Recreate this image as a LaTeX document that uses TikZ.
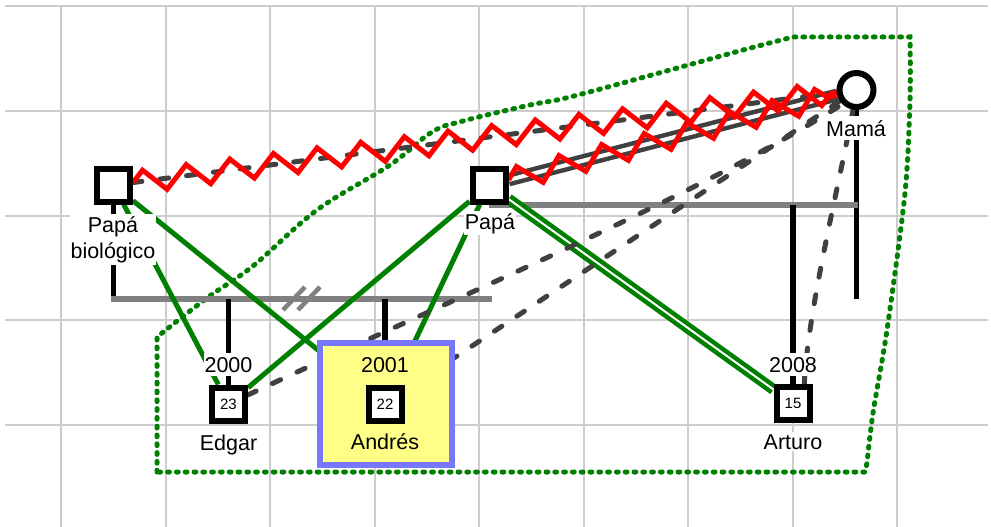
\documentclass[tikz,border=0pt]{standalone}
\usepackage{fontspec}
\setmainfont{Liberation Sans}
\usetikzlibrary{decorations.pathmorphing}
\definecolor{gridc}{RGB}{205,205,205}
\definecolor{relgreen}{RGB}{0,128,0}
\definecolor{relgray}{RGB}{64,64,64}
\definecolor{famgray}{RGB}{128,128,128}
\definecolor{boxyellow}{RGB}{255,255,136}
\definecolor{boxblue}{RGB}{120,120,255}
\pgfdeclarelayer{bg}
\pgfdeclarelayer{links}
\pgfdeclarelayer{boxlayer}
\pgfsetlayers{bg,links,boxlayer,main}
\begin{document}
\begin{tikzpicture}[x=1pt,y=-1pt,
  gridline/.style={draw=gridc, line width=1.5pt},
  hull/.style={draw=relgreen, line width=5pt, line cap=round, dash pattern=on 1.8pt off 7pt},
  male/.style={rectangle, draw=black, line width=6pt, fill=white, minimum size=33pt, inner sep=0pt},
  female/.style={circle, draw=black, line width=6pt, fill=white, minimum size=34pt, inner sep=0pt},
  lbl/.style={font=\fontsize{21.5}{26}\selectfont, fill=white, inner xsep=1pt, inner ysep=2pt, align=center},
  yr/.style={font=\fontsize{21.5}{26}\selectfont, fill=white, inner xsep=1pt, inner ysep=4pt, anchor=base},
  agetxt/.style={font=\fontsize{15}{17}\selectfont},
  blk/.style={draw=black, line width=5.5pt},
  fam/.style={draw=famgray, line width=5.5pt},
  grn/.style={draw=relgreen, line width=5pt},
  grndbl/.style={draw=relgreen, line width=4.5pt, double=white, double distance=2pt},
  dsh/.style={draw=relgray, line width=5pt, line cap=round, dash pattern=on 9pt off 18pt},
  solidpair/.style={draw=relgray, line width=4.5pt, double=white, double distance=4pt},
  zz/.style={draw=red, line width=5pt, decorate, decoration={zigzag, segment length=44pt, amplitude=11pt}},
  hl/.style={rectangle, draw=boxblue, fill=boxyellow, line width=6pt, minimum width=132pt, minimum height=122pt}
]
\useasboundingbox (0,0) rectangle (991,527);

% background: grid and hull
\begin{pgfonlayer}{bg}
  \fill[white] (0,0) rectangle (991,527);
  \foreach \yy in {6,111,216,320,425} \draw[gridline] (5,\yy) -- (988,\yy);
  \foreach \xx in {61,166,270,375,479,584,688,793,897} \draw[gridline] (\xx,6) -- (\xx,527);
  \draw[hull] (157,472) -- (157,337) -- plot[smooth, tension=0.6] coordinates {(157,337) (207,298) (253,266) (317,210) (390,165) (432,132) (463,121) (530,105) (570,97) (670,70) (743,50) (793,37)} -- (910,37) -- plot[smooth] coordinates {(910,37) (910,100) (905,193) (887,330) (873,413) (867,463)} -- (865,472) -- cycle;
\end{pgfonlayer}

% persons
\node[male] (pb) at (113.5,185) {};
\node[male] (pa) at (489,185) {};
\node[female] (ma) at (856.5,90) {};
\node[male, agetxt] (ed) at (228.5,404) {23};
\node[male, agetxt] (an) at (385,404) {22};
\node[male, agetxt] (ar) at (793,403.5) {15};

% labels
\node[lbl] (pbl) at (113,239.5) {Papá\\biológico};
\node[lbl, anchor=base] (pal) at (490,229) {Papá};
\node[lbl, anchor=base, inner ysep=4pt] (mal) at (856,136) {Mamá};
\node[yr] (edy) at (228.5,372) {2000};
\node[lbl, anchor=base] (edl) at (228.5,450) {Edgar};
\node[yr, fill=none] (any) at (385,372) {2001};
\node[lbl, anchor=base, fill=none] (anl) at (385,449) {Andrés};
\node[yr] (ary) at (793,372) {2008};
\node[lbl, anchor=base] (arl) at (793,449) {Arturo};

% highlight box
\begin{pgfonlayer}{boxlayer}
  \node[hl] (abox) at (386,404) {};
\end{pgfonlayer}

% connectors
\begin{pgfonlayer}{links}
  \coordinate (s1) at (111,299);
  \coordinate (s2) at (492,299);
  \coordinate (m2) at (858,205);
  \draw[blk] (pb) -- (pb |- s1);
  \draw[blk] (ma) -- (ma |- s1);
  \draw[fam] (s1) -- (s2);
  \draw[fam, line width=4.5pt] (283,310) -- (305,287);
  \draw[fam, line width=4.5pt] (298,310) -- (320,287);
  \draw[blk] (ed |- s1) -- (ed);
  \draw[blk] (an |- s1) -- (an);
  \draw[fam] (pa |- m2) -- (m2);
  \draw[blk] (ar |- m2) -- (ar);

  \draw[grn] (pb) -- (ed);
  \draw[grn] (pb) -- (an);
  \draw[grn] (pa) -- (ed);
  \draw[grn] (pa) -- (an);
  \draw[grndbl] (pa) -- (ar);

  \draw[dsh] (pb) -- (ma);
  \draw[dsh] (ed.25) .. controls (450,300) and (700,195) .. (ma.-135);
  \draw[dsh] (an) -- (ma);
  \draw[dsh] (ar.60) .. controls (808,310) and (838,190) .. (ma.-100);

  \draw[solidpair] (pa) -- (ma);

  \draw[zz] (pb) -- (ma);
  \draw[zz] (pa) -- (ma);
\end{pgfonlayer}
\end{tikzpicture}
\end{document}
